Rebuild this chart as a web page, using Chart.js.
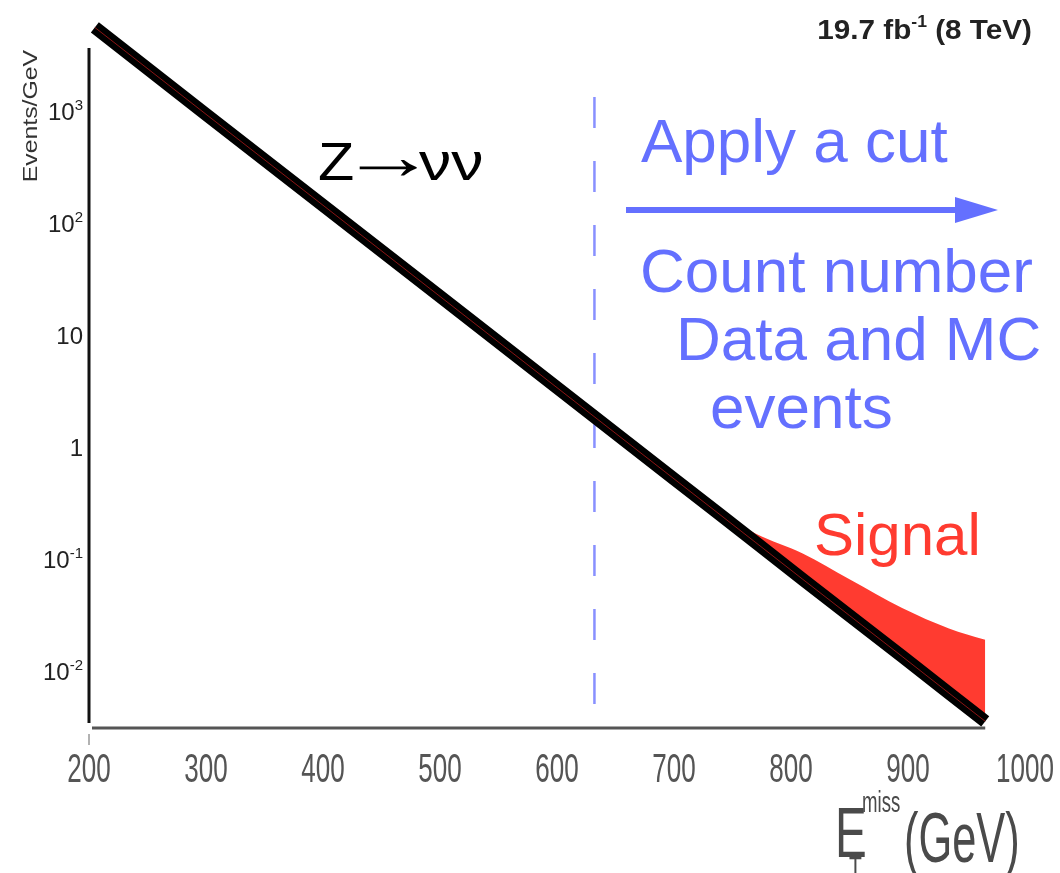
<!DOCTYPE html>
<html>
<head>
<meta charset="utf-8">
<script src="https://cdn.jsdelivr.net/npm/chart.js@4/dist/chart.umd.min.js"></script>
<style>
  html, body { margin: 0; padding: 0; background: #fff; }
  #wrap { width: 1060px; height: 873px; }
</style>
</head>
<body>
<div id="wrap"><canvas id="metChart" width="1060" height="873"></canvas></div>
<script>
// MET spectrum: Z->nunu background and background + signal (Events/GeV)
const metBins = [205, 300, 400, 500, 600, 700, 735, 770, 810, 850, 895, 935, 966];
const zvvEvents = [5570, 935, 144, 22.1, 3.39, 0.52, 0.27, 0.14, 0.066, 0.0313, 0.0135, 0.00636, 0.00356];
const totalEvents = [5570, 935, 144, 22.1, 3.39, 0.52, 0.275, 0.168, 0.112, 0.066, 0.0365, 0.024, 0.019];

// cut position and the span of the dashed marker
const cutValue = 632;
const cutSpan = [1330, 0.0043];

const xTicks = [200, 300, 400, 500, 600, 700, 800, 900, 1000];
const yTicks = [0.01, 0.1, 1, 10, 100, 1000];
const yTickExp = ["-2", "-1", "", "", "2", "3"];
const yTickBase = ["10", "10", "1", "10", "10", "10"];

const BLUE = "#6470ff";
const RED = "#ff3b30";
const SANS = "'Liberation Sans', Arial, sans-serif";

const points = (ys) => metBins.map((x, i) => ({ x, y: ys[i] }));

function squeezed(ctx, text, x, y, sx) {
  ctx.save();
  ctx.translate(x, y);
  ctx.scale(sx, 1);
  ctx.fillText(text, 0, 0);
  ctx.restore();
  return ctx.measureText(text).width * sx;
}

// axis lines: a short y axis, an x axis that stops at the last bin
const axisLines = {
  id: "axisLines",
  beforeDatasetsDraw(chart) {
    const { ctx, chartArea, scales } = chart;
    ctx.save();
    ctx.lineWidth = 3;
    ctx.strokeStyle = "#111";
    ctx.beginPath();
    ctx.moveTo(chartArea.left, chartArea.top);
    ctx.lineTo(chartArea.left, chartArea.bottom - 2);
    ctx.stroke();
    ctx.strokeStyle = "#555";
    ctx.beginPath();
    ctx.moveTo(chartArea.left + 3, chartArea.bottom + 3);
    ctx.lineTo(scales.x.getPixelForValue(metBins[metBins.length - 1]), chartArea.bottom + 3);
    ctx.stroke();
    ctx.lineWidth = 1.5;
    ctx.strokeStyle = "#999";
    ctx.beginPath();
    ctx.moveTo(chartArea.left, chartArea.bottom + 9);
    ctx.lineTo(chartArea.left, chartArea.bottom + 20);
    ctx.stroke();
    ctx.restore();
  }
};

// tick labels: condensed numbers on x, powers of ten on y
const tickLabels = {
  id: "tickLabels",
  afterDraw(chart) {
    const { ctx, scales } = chart;
    ctx.save();
    ctx.fillStyle = "#555";
    ctx.font = "40px " + SANS;
    xTicks.forEach((v) => {
      const t = String(v);
      const w = ctx.measureText(t).width * 0.65;
      squeezed(ctx, t, scales.x.getPixelForValue(v) - w / 2, 782, 0.65);
    });

    ctx.fillStyle = "#222";
    yTicks.forEach((v, i) => {
      const y = scales.y.getPixelForValue(v);
      const right = 83;
      ctx.font = "15px " + SANS;
      const we = yTickExp[i] ? ctx.measureText(yTickExp[i]).width : 0;
      if (yTickExp[i]) ctx.fillText(yTickExp[i], right - we, y - 1);
      ctx.font = "24px " + SANS;
      const wb = ctx.measureText(yTickBase[i]).width;
      ctx.fillText(yTickBase[i], right - we - wb, y + 9);
    });
    ctx.restore();
  }
};

const labels = {
  id: "labels",
  afterDraw(chart) {
    const { ctx } = chart;
    ctx.save();
    ctx.textBaseline = "alphabetic";

    // luminosity / energy
    ctx.fillStyle = "#222";
    const big = "bold 27px " + SANS, small = "bold 16px " + SANS, sx = 1.1;
    const a = "19.7 fb", b = " (8 TeV)";
    ctx.font = big;
    const wa = ctx.measureText(a).width * sx, wb = ctx.measureText(b).width * sx;
    ctx.font = small;
    const wsup = ctx.measureText("-1").width * sx;
    const x0 = 1032 - wa - wsup - wb;
    ctx.font = big;
    squeezed(ctx, a, x0, 39, sx);
    squeezed(ctx, b, x0 + wa + wsup, 39, sx);
    ctx.font = small;
    squeezed(ctx, "-1", x0 + wa, 27, sx);

    // y axis title
    ctx.save();
    ctx.translate(37, 50);
    ctx.rotate(-Math.PI / 2);
    ctx.scale(1.18, 1);
    ctx.textAlign = "right";
    ctx.fillStyle = "#333";
    ctx.font = "21px " + SANS;
    ctx.fillText("Events/GeV", 0, 0);
    ctx.restore();

    // x axis title: E_T^miss (GeV)
    ctx.fillStyle = "#4a4a4a";
    ctx.font = "70px " + SANS;
    squeezed(ctx, "E", 835, 857, 0.68);
    squeezed(ctx, "(GeV)", 904, 862, 0.62);
    ctx.font = "30px " + SANS;
    squeezed(ctx, "miss", 862, 812, 0.62);
    squeezed(ctx, "T", 849, 877, 0.7);

    // process label
    ctx.fillStyle = "#000";
    ctx.font = "53px " + SANS;
    squeezed(ctx, "Z", 318, 180, 1.12);
    const m = ctx.measureText("→");
    const ink = m.actualBoundingBoxRight + m.actualBoundingBoxLeft;
    const ax = 60 / ink;
    ctx.save();
    ctx.translate(358 + m.actualBoundingBoxLeft * ax, 179);
    ctx.scale(ax, 1.25);
    ctx.fillText("→", 0, 0);
    ctx.restore();
    squeezed(ctx, "νν", 419, 180, 1.22);

    // cut annotation
    ctx.fillStyle = BLUE;
    ctx.font = "62px " + SANS;
    ctx.fillText("Apply a cut", 641, 162);
    ctx.fillText("Count number", 640, 292);
    ctx.fillText("Data and MC", 676, 360);
    ctx.fillText("events", 710, 428);

    ctx.strokeStyle = BLUE;
    ctx.lineWidth = 6;
    ctx.beginPath();
    ctx.moveTo(626, 210);
    ctx.lineTo(960, 210);
    ctx.stroke();
    ctx.beginPath();
    ctx.moveTo(955, 197);
    ctx.lineTo(998, 210);
    ctx.lineTo(955, 223);
    ctx.closePath();
    ctx.fill();

    ctx.fillStyle = RED;
    ctx.font = "60px " + SANS;
    ctx.fillText("Signal", 814, 555);
    ctx.restore();
  }
};

new Chart(document.getElementById("metChart").getContext("2d"), {
  type: "line",
  data: {
    datasets: [
      { label: "centre", data: points(zvvEvents), borderColor: "rgba(175,25,25,0.8)", borderWidth: 1,
        pointRadius: 0, fill: false, clip: false, order: 0 },
      { label: "Z→νν", data: points(zvvEvents), borderColor: "#000", borderWidth: 13,
        pointRadius: 0, fill: false, clip: false, order: 1 },
      { label: "Signal", data: points(totalEvents), borderColor: "rgba(0,0,0,0)", borderWidth: 0,
        backgroundColor: RED, fill: 1, pointRadius: 0, clip: false, order: 2,
        cubicInterpolationMode: "monotone" },
      { label: "cut", data: [{ x: cutValue, y: cutSpan[0] }, { x: cutValue, y: cutSpan[1] }],
        borderColor: "rgba(115,125,255,0.85)", borderWidth: 2.5, borderDash: [31, 33],
        pointRadius: 0, fill: false, order: 3 }
    ]
  },
  options: {
    responsive: false,
    animation: false,
    layout: { padding: { top: 48, right: 35, left: 0, bottom: 0 } },
    plugins: { legend: { display: false }, tooltip: { enabled: false } },
    scales: {
      x: {
        type: "linear",
        min: 200,
        max: 1000,
        afterBuildTicks: (s) => { s.ticks = xTicks.map((v) => ({ value: v })); },
        afterFit: (s) => { s.height = 148; },
        grid: { display: false },
        border: { display: false },
        ticks: { display: false }
      },
      y: {
        type: "logarithmic",
        min: 0.0033,
        max: 3650,
        afterBuildTicks: (s) => { s.ticks = yTicks.map((v) => ({ value: v })); },
        afterFit: (s) => { s.width = 89; },
        grid: { display: false },
        border: { display: false },
        ticks: { display: false }
      }
    }
  },
  plugins: [axisLines, tickLabels, labels]
});
</script>
</body>
</html>
